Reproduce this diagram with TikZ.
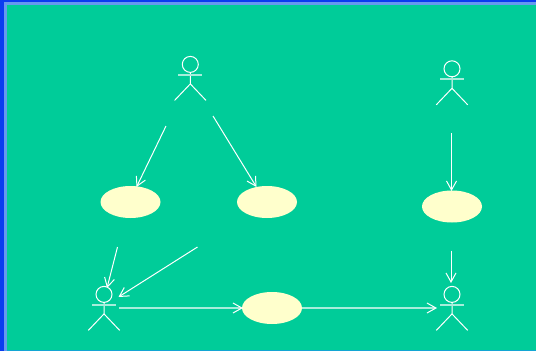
\documentclass[tikz,border=0pt]{standalone}
\usetikzlibrary{arrows.meta,shapes.geometric}
\definecolor{bgc}{HTML}{00CC99}
\definecolor{edgeA}{HTML}{0A3CF0}
\definecolor{edgeB}{HTML}{6699EE}
\definecolor{ucfill}{HTML}{FFFFCC}
\tikzset{
  usecase/.style={ellipse,fill=ucfill,draw=none,minimum width=60pt,minimum height=32pt,inner sep=0pt},
  link/.style={draw=white,line width=1pt,-{Straight Barb[length=9pt,width=10pt,line width=1pt]}},
  softlink/.style={draw=white!65!bgc,line width=1.7pt,-{Straight Barb[length=9pt,width=10pt,line width=1pt,color=white]}},
  stick/.style={draw=white,line width=1pt},
  softstick/.style={draw=white!65!bgc,line width=1.7pt},
  actor/.pic={
    \draw[stick] (0,0) circle (8pt);
    \draw[stick] (0,8) -- (0,19.5) -- (-15.7,36);
    \draw[stick] (0,19.5) -- (15.7,36);
    \draw[softstick] (-12,10.4) -- (12,10.4);
  }
}
\begin{document}
\begin{tikzpicture}[x=1pt,y=-1pt]
\useasboundingbox (0,0) rectangle (536,351);
\fill[bgc] (0,0) rectangle (536,351);
\fill[edgeB] (4,2) rectangle (536,5);
\fill[edgeB] (4,2) rectangle (7,351);
\fill[edgeA] (0,0) rectangle (536,2);
\fill[edgeA] (0,0) rectangle (4,351);
\fill[cyan!60!bgc] (7,349.6) rectangle (536,351);
\pic (actorA) at (190.3,64.4) {actor};
\pic (actorB) at (452,68.8) {actor};
\pic (actorC) at (104,294.4) {actor};
\pic (actorD) at (452,294.4) {actor};
\node[usecase] (ucA) at (130.5,202) {};
\node[usecase] (ucB) at (267,202) {};
\node[usecase] (ucC) at (452,206.5) {};
\node[usecase] (ucD) at (272,308) {};
\coordinate (a1) at (166,126);
\coordinate (a2) at (136.5,187);
\coordinate (b1) at (213,116);
\coordinate (b2) at (256.5,187);
\coordinate (c1) at (451.5,133);
\coordinate (c2) at (451.5,191);
\coordinate (d1) at (117.5,247);
\coordinate (d2) at (107,288);
\coordinate (e1) at (197.5,247);
\coordinate (e2) at (118.5,297);
\coordinate (f1) at (119,308);
\coordinate (f2) at (243,308);
\coordinate (g1) at (302,308);
\coordinate (g2) at (437,308);
\coordinate (h1) at (451,250.5);
\coordinate (h2) at (451,283);
\draw[link] (a1) -- (a2);
\draw[link] (b1) -- (b2);
\draw[link] (c1) -- (c2);
\draw[link] (d1) -- (d2);
\draw[link] (e1) -- (e2);
\draw[softlink] (f1) -- (f2);
\draw[softlink] (g1) -- (g2);
\draw[link] (h1) -- (h2);
\end{tikzpicture}
\end{document}
